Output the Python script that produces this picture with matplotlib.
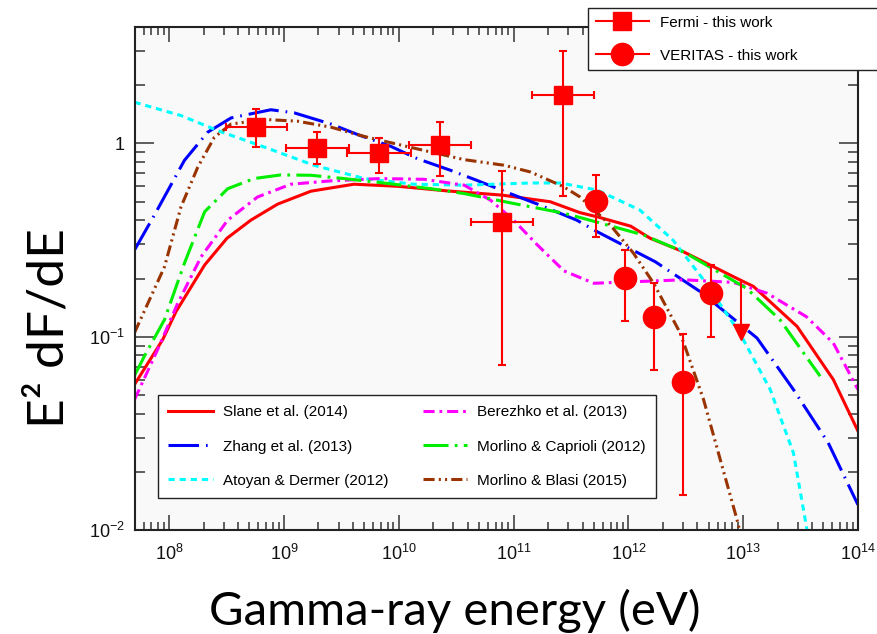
import numpy as np
import matplotlib
matplotlib.use("Agg")
import matplotlib.pyplot as plt
from matplotlib.lines import Line2D
from matplotlib.ticker import FuncFormatter, LogLocator, NullFormatter

# Fermi-LAT points (energy in eV, E^2 dF/dE), with bin edges and 1-sigma range
fermi_e = np.array([5.7e8, 1.96e9, 6.75e9, 2.3e10, 7.9e10, 2.7e11])
fermi_elo = np.array([3.13e8, 1.04e9, 3.58e9, 1.23e10, 4.23e10, 1.45e11])
fermi_ehi = np.array([1.06e9, 3.67e9, 1.27e10, 4.27e10, 1.48e11, 5.0e11])
fermi_f = np.array([1.22, 0.95, 0.89, 0.98, 0.393, 1.77])
fermi_flo = np.array([0.955, 0.78, 0.70, 0.676, 0.071, 0.533])
fermi_fhi = np.array([1.51, 1.144, 1.07, 1.29, 0.72, 3.01])

# VERITAS points
veritas_e = np.array([5.27e11, 9.4e11, 1.66e12, 2.99e12, 5.26e12])
veritas_f = np.array([0.504, 0.201, 0.126, 0.058, 0.168])
veritas_flo = np.array([0.327, 0.12, 0.067, 0.0151, 0.0997])
veritas_fhi = np.array([0.684, 0.281, 0.19, 0.103, 0.235])

# VERITAS upper limit
ul_e = 9.6e12
ul_f = 0.197
ul_tip = 0.10

# model curves
slane_e = [5.0e7, 8.8e7, 1.15e8, 2.04e8, 3.19e8, 5.16e8, 8.81e8, 1.72e9, 4.07e9,
           9.77e9, 2.63e10, 7.94e10, 2.09e11, 3.8e11, 5.37e11, 1.05e12, 1.55e12,
           3.02e12, 9.33e12, 1.23e13, 2.95e13, 6.1e13, 1.0e14]
slane_f = [0.0566, 0.0966, 0.135, 0.235, 0.323, 0.401, 0.485, 0.566, 0.615,
           0.600, 0.568, 0.540, 0.499, 0.438, 0.417, 0.373, 0.323,
           0.275, 0.197, 0.182, 0.113, 0.060, 0.0325]

zhang_e = [5.0e7, 7.45e7, 1.36e8, 2.17e8, 3.47e8, 7.71e8, 1.23e9, 2.57e9, 4.37e9,
           8.51e9, 1.45e10, 2.82e10, 4.79e10, 9.33e10, 1.62e11, 3.55e11, 5.37e11,
           1.72e12, 4.23e12, 1.32e13, 2.74e13, 5.5e13, 1.0e14]
zhang_f = [0.281, 0.426, 0.817, 1.143, 1.355, 1.493, 1.439, 1.259, 1.112,
           0.966, 0.834, 0.726, 0.644, 0.550, 0.485, 0.401, 0.349,
           0.244, 0.171, 0.0984, 0.0533, 0.0283, 0.0135]

atoyan_e = [5.0e7, 1.27e8, 2.63e8, 6.76e8, 1.82e9, 5.01e9, 1.35e10, 3.72e10,
            1.41e11, 2.57e11, 5.37e11, 1.26e12, 2.45e12, 4.52e12, 9.33e12,
            1.72e13, 2.74e13, 3.55e13, 3.7e13]
atoyan_f = [1.633, 1.393, 1.167, 0.957, 0.771, 0.658, 0.615, 0.608,
            0.624, 0.624, 0.573, 0.452, 0.316, 0.197, 0.1045,
            0.0533, 0.0251, 0.0105, 0.009]

berezhko_e = [5.0e7, 7.94e7, 1.19e8, 1.9e8, 3.24e8, 5.89e8, 1.15e9, 2.57e9,
              6.92e9, 1.66e10, 3.72e10, 6.31e10, 1.0e11, 1.58e11, 2.75e11,
              5.01e11, 1.26e12, 3.02e12, 8.22e12, 1.61e13, 3.55e13, 6.1e13, 1.0e14]
berezhko_f = [0.0473, 0.0857, 0.149, 0.259, 0.401, 0.528, 0.615, 0.640,
              0.658, 0.652, 0.608, 0.508, 0.401, 0.302, 0.219,
              0.189, 0.193, 0.197, 0.191, 0.168, 0.127, 0.0927, 0.0533]

caprioli_e = [5.0e7, 6.1e7, 9.12e7, 1.36e8, 2.04e8, 3.24e8, 5.5e8, 9.42e8,
              1.72e9, 3.31e9, 7.41e9, 1.91e10, 3.72e10, 1.0e11, 2.75e11,
              4.07e11, 1.35e12, 3.02e12, 1.07e13, 2.09e13, 4.68e13]
caprioli_f = [0.063, 0.0794, 0.1225, 0.240, 0.443, 0.583, 0.658, 0.687,
              0.684, 0.658, 0.624, 0.583, 0.550, 0.489, 0.435,
              0.409, 0.336, 0.275, 0.178, 0.1225, 0.0625]

blasi_e = [5.0e7, 9.12e7, 1.27e8, 1.78e8, 2.48e8, 3.47e8, 6.76e8, 1.31e9,
           2.57e9, 5.01e9, 1.35e10, 3.72e10, 8.24e10, 1.41e11, 2.74e11,
           3.8e11, 6.97e11, 1.11e12, 1.66e12, 2.83e12, 4.52e12, 6.31e12,
           8.81e12, 9.5e12]
blasi_f = [0.105, 0.230, 0.470, 0.755, 1.076, 1.259, 1.330, 1.303,
           1.213, 1.086, 0.946, 0.824, 0.771, 0.711, 0.596,
           0.528, 0.378, 0.270, 0.189, 0.1045, 0.0473, 0.0232,
           0.0114, 0.0095]

x_ticks = [1e8, 1e9, 1e10, 1e11, 1e12, 1e13, 1e14]
y_ticks = [1e-2, 1e-1, 1.0]

plt.rcParams.update({
    "font.family": "Liberation Sans",
    "mathtext.fontset": "custom",
    "mathtext.rm": "Liberation Sans",
    "mathtext.it": "Liberation Sans:italic",
    "mathtext.bf": "Liberation Sans:bold",
    "lines.scale_dashes": False,
})

fig = plt.figure(figsize=(8.77, 6.34), dpi=100)
ax = fig.add_axes([0.1534, 0.1640, 0.8249, 0.7934])
ax.set_facecolor("#f9f9f9")
ax.set_xscale("log")
ax.set_yscale("log")

lw = 2.2
l_slane, = ax.plot(slane_e, slane_f, color="#ff0000", lw=lw, label="Slane et al. (2014)")
l_zhang, = ax.plot(zhang_e, zhang_f, color="#0000ff", lw=lw,
                   dashes=(22, 5, 1.2, 5), label="Zhang et al. (2013)")
l_atoyan, = ax.plot(atoyan_e, atoyan_f, color="#00ffff", lw=lw,
                    dashes=(4.5, 3.5), label="Atoyan & Dermer (2012)")
l_berezhko, = ax.plot(berezhko_e, berezhko_f, color="#ff00ff", lw=lw,
                      dashes=(8, 3.5, 2, 3.5), label="Berezhko et al. (2013)")
l_caprioli, = ax.plot(caprioli_e, caprioli_f, color="#00ee00", lw=lw,
                      dashes=(18, 4.5, 2, 4.5), label="Morlino & Caprioli (2012)")
l_blasi, = ax.plot(blasi_e, blasi_f, color="#993300", lw=lw,
                   dashes=(8, 3, 1.5, 3, 1.5, 3), label="Morlino & Blasi (2015)")

# measured points
ax.errorbar(fermi_e, fermi_f,
            xerr=[fermi_e - fermi_elo, fermi_ehi - fermi_e],
            yerr=[fermi_f - fermi_flo, fermi_fhi - fermi_f],
            fmt="s", color="red", ms=13, elinewidth=1.5, capsize=3,
            capthick=1.5, zorder=5)
ax.errorbar(veritas_e, veritas_f,
            yerr=[veritas_f - veritas_flo, veritas_fhi - veritas_f],
            fmt="o", color="red", ms=16, elinewidth=1.5, capsize=3,
            capthick=1.5, zorder=5)
ax.plot([ul_e, ul_e], [ul_f, ul_tip * 1.1], color="red", lw=1.5, zorder=5)
ax.plot([ul_e], [ul_tip * 1.06], marker="v", color="red", ms=11, zorder=5)

# axes styling
for s in ax.spines.values():
    s.set_linewidth(1.5)
    s.set_color("#222222")
ax.set_xticks(x_ticks)
ax.set_yticks(y_ticks)
ax.xaxis.set_minor_locator(LogLocator(base=10, subs=np.arange(2, 10), numticks=40))
ax.yaxis.set_minor_locator(LogLocator(base=10, subs=np.arange(2, 10), numticks=40))
ax.xaxis.set_minor_formatter(NullFormatter())
ax.yaxis.set_minor_formatter(NullFormatter())
ax.xaxis.set_major_formatter(FuncFormatter(
    lambda v, p: r"$\mathregular{10^{%d}}$" % round(np.log10(v))))
ax.yaxis.set_major_formatter(FuncFormatter(
    lambda v, p: "1" if round(np.log10(v)) == 0
    else r"$\mathregular{10^{%d}}$" % round(np.log10(v))))
ax.set_xlim(5e7, 1e14)
ax.set_ylim(1e-2, 4.0)
ax.tick_params(which="both", direction="in", top=True, right=True,
               color="#333333", width=1.1, labelsize=13, labelcolor="#111111")
ax.tick_params(axis="x", which="major", length=11, pad=10)
ax.tick_params(axis="x", which="minor", length=5.5)
ax.tick_params(axis="y", which="major", length=14, pad=7)
ax.tick_params(axis="y", which="minor", length=7)

# model legend
ax.legend(handles=[l_slane, l_zhang, l_atoyan, l_berezhko, l_caprioli, l_blasi],
          ncol=2, loc="upper left", bbox_to_anchor=(158 / 877, 1 - 395 / 634),
          bbox_transform=fig.transFigure, borderaxespad=0,
          fontsize=11, frameon=True, fancybox=False, edgecolor="#222222",
          facecolor="white", framealpha=1, handlelength=2.9, handletextpad=0.65,
          labelspacing=1.32, borderpad=0.68, columnspacing=2.26)

# data legend
h_fermi = Line2D([], [], color="red", lw=1.5, marker="s", ms=13)
h_veritas = Line2D([], [], color="red", lw=1.5, marker="o", ms=16)
fig.legend(handles=[h_fermi, h_veritas],
           labels=["Fermi - this work", "VERITAS - this work"],
           loc="upper left", bbox_to_anchor=(588 / 877, 1 - 8 / 634, 0.36, 0.0),
           mode="expand", borderaxespad=0, fontsize=11, frameon=True,
           fancybox=False, edgecolor="#222222", facecolor="white", framealpha=1,
           handlelength=3.5, handletextpad=0.7, labelspacing=1.25, borderpad=0.5)

fig.text(0.057, 0.483, "E² dF/dE", rotation=90, ha="center", va="center",
         fontsize=37, family="Lato")
fig.text(0.519, 0.0145, "Gamma-ray energy (eV)", ha="center", va="baseline",
         fontsize=34, family="Lato")

fig.savefig("out.png", dpi=100)
